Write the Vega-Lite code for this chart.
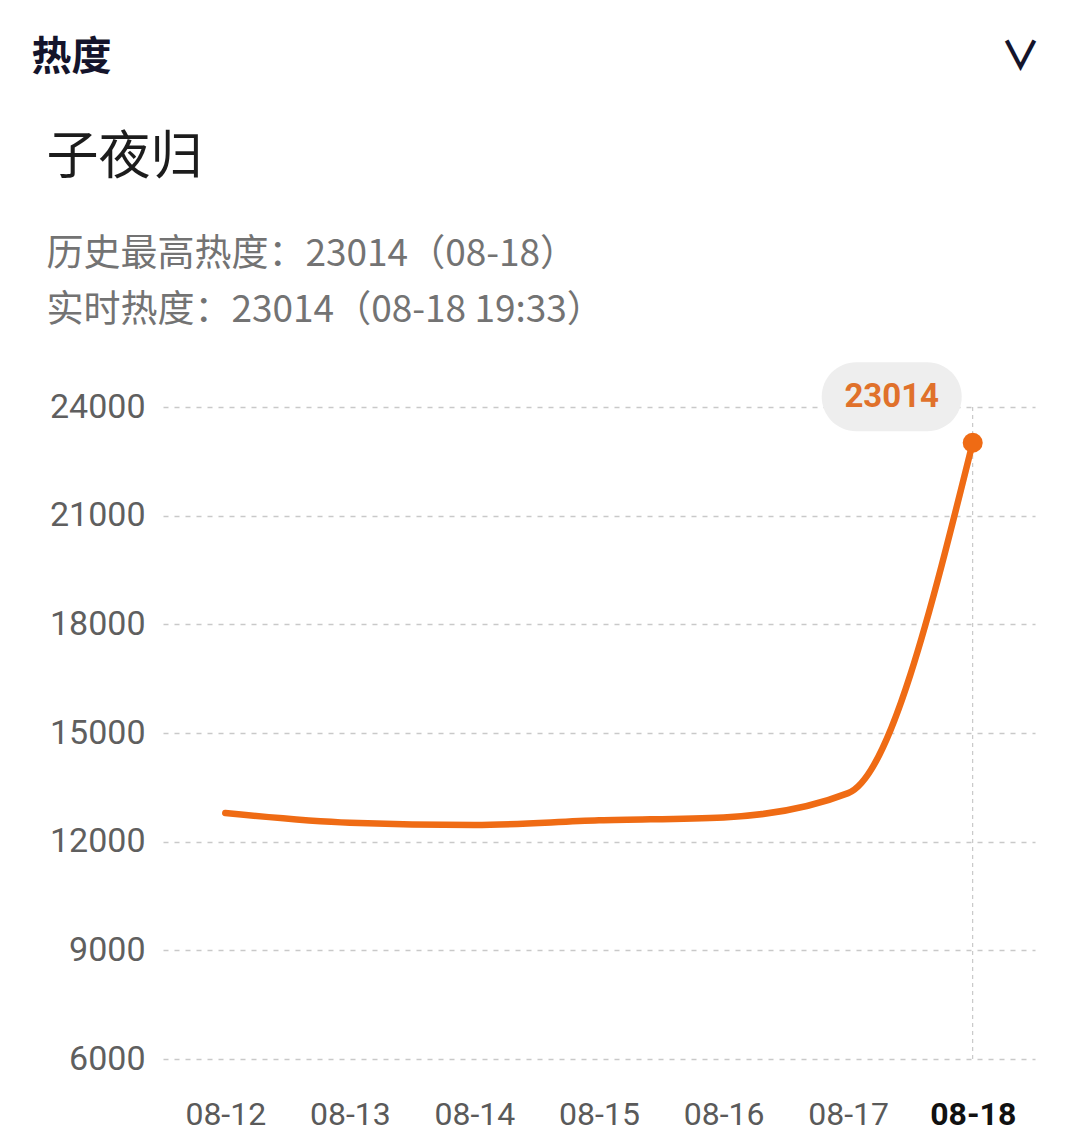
{
  "$schema": "https://vega.github.io/schema/vega-lite/v6.json",
  "background": "white",
  "padding": {"left": 31, "top": 38, "right": 0, "bottom": 0},
  "title": {
    "text": "热度　　　　　　　　　　　　　　　　　　　　　　 ∨",
    "anchor": "start",
    "frame": "bounds",
    "font": "Noto Sans CJK SC",
    "fontSize": 40,
    "fontWeight": "bold",
    "color": "#14142b",
    "dx": -15,
    "offset": 54
  },
  "config": {
    "view": {"stroke": null},
    "concat": {"spacing": 0}
  },
  "vconcat": [
    {
      "width": 872,
      "height": 652,
      "title": {
        "text": "子夜归",
        "subtitle": ["历史最高热度：23014（08-18）", "实时热度：23014（08-18 19:33）"],
        "anchor": "start",
        "frame": "bounds",
        "font": "Noto Sans CJK SC",
        "fontSize": 52,
        "fontWeight": "normal",
        "color": "#1c1c1c",
        "subtitleFont": "Noto Sans CJK SC",
        "subtitleFontSize": 37,
        "subtitleColor": "#737373",
        "subtitleLineHeight": 56,
        "subtitlePadding": 52,
        "dx": -3,
        "offset": 32
      },
      "data": {
        "values": [
          {"date": "08-12", "heat": 12790},
          {"date": "08-13", "heat": 12520},
          {"date": "08-14", "heat": 12460},
          {"date": "08-15", "heat": 12590},
          {"date": "08-16", "heat": 12670},
          {"date": "08-17", "heat": 13340},
          {"date": "08-18", "heat": 23014}
        ]
      },
      "encoding": {
        "x": {
          "field": "date",
          "type": "ordinal",
          "sort": ["08-12", "08-13", "08-14", "08-15", "08-16", "08-17", "08-18"],
          "scale": {"type": "point", "padding": 0.5},
          "axis": {
            "title": null,
            "labelAngle": 0,
            "labelFont": "Roboto",
            "labelFontSize": 32,
            "labelColor": {"condition": {"test": "datum.value == '08-18'", "value": "#111111"}, "value": "#5a5a5a"},
            "labelFontWeight": {"condition": {"test": "datum.value == '08-18'", "value": "bold"}, "value": "normal"},
            "labelPadding": 40,
            "domain": false,
            "ticks": false,
            "grid": false
          }
        },
        "y": {
          "field": "heat",
          "type": "quantitative",
          "scale": {"domain": [6000, 24000], "nice": false, "zero": false},
          "axis": {
            "title": null,
            "values": [6000, 9000, 12000, 15000, 18000, 21000, 24000],
            "format": "d",
            "labelFont": "Roboto",
            "labelFontSize": 34,
            "labelColor": "#5f5f5f",
            "labelPadding": 18,
            "domain": false,
            "ticks": false,
            "grid": true,
            "gridColor": "#c9c9c9",
            "gridDash": [5, 6],
            "gridWidth": 1.5
          }
        }
      },
      "layer": [
        {
          "transform": [{"filter": "datum.date == '08-18'"}],
          "mark": {"type": "rule", "color": "#bdbdbd", "strokeDash": [4, 4], "strokeWidth": 1},
          "encoding": {"y": null}
        },
        {
          "mark": {"type": "line", "interpolate": "monotone", "color": "#EF6B14", "strokeWidth": 6.5, "strokeCap": "round"}
        },
        {
          "transform": [{"filter": "datum.date == '08-18'"}],
          "mark": {"type": "point", "filled": true, "color": "#EF6B14", "size": 400, "opacity": 1, "shape": "circle"}
        },
        {
          "transform": [{"filter": "datum.date == '08-18'"}],
          "mark": {
            "type": "point",
            "filled": true,
            "color": "#eeeeee",
            "opacity": 1,
            "size": 19600,
            "shape": "M -0.507 -0.493 L 0.507 -0.493 A 0.493 0.493 0 0 1 0.507 0.493 L -0.507 0.493 A 0.493 0.493 0 0 1 -0.507 -0.493 Z",
            "xOffset": -81,
            "yOffset": -46
          }
        },
        {
          "transform": [{"filter": "datum.date == '08-18'"}],
          "mark": {
            "type": "text",
            "font": "Roboto",
            "fontSize": 33,
            "fontWeight": "bold",
            "color": "#E0712B",
            "baseline": "middle",
            "align": "center",
            "xOffset": -81,
            "yOffset": -46
          },
          "encoding": {"text": {"field": "heat", "type": "quantitative", "format": "d"}}
        }
      ]
    }
  ]
}
